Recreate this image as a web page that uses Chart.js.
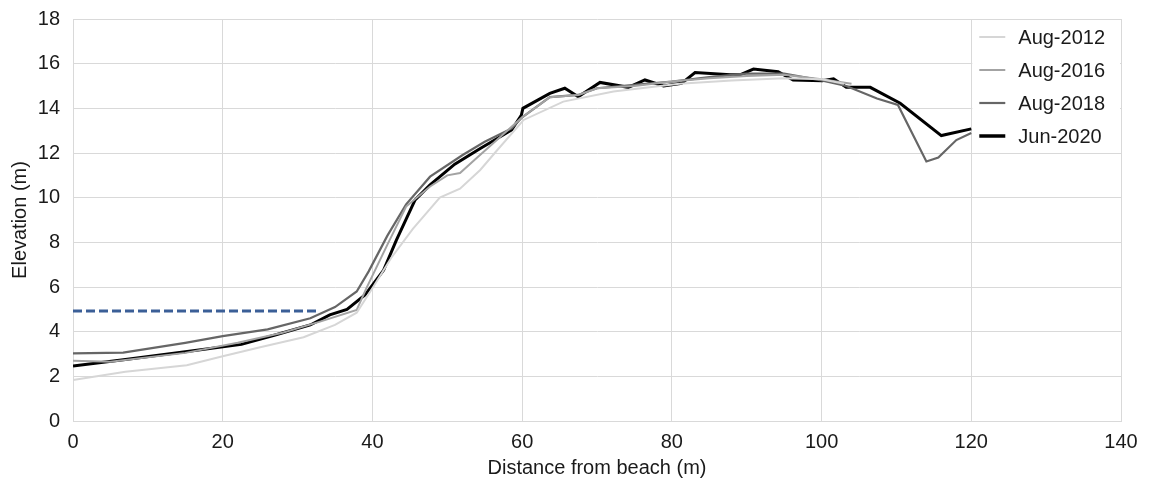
<!DOCTYPE html>
<html lang="en">
<head>
    <meta charset="UTF-8">
    <script src="https://cdn.jsdelivr.net/npm/chart.js"></script>
    <title>Beach profile</title>
    <style>
        body { margin: 0; background: #fff; }
        #wrap { width: 1151px; height: 489px; }
    </style>
</head>
<body>
<div id="wrap"><canvas id="myChart"></canvas></div>
<script>
    // profile data: distance from beach (m) / elevation (m)
    const dist2012 = [0, 7, 15.2, 20, 25, 30.8, 35, 37.9, 40.1, 42.5, 45.4, 49, 51.7, 54.4, 56.6, 60.2, 65.5, 72.2, 81, 88, 95, 100, 103];
    const elev2012 = [1.84, 2.2, 2.5, 2.9, 3.3, 3.75, 4.3, 4.85, 6.0, 7.3, 8.6, 10.0, 10.4, 11.24, 12.1, 13.48, 14.3, 14.75, 15.1, 15.25, 15.35, 15.3, 15.1];

    const dist2016 = [0, 5, 15, 22, 28, 33, 37.9, 39.2, 42, 44.5, 47.7, 50, 51.7, 54, 58, 60, 63.7, 67.5, 70, 75, 80, 85, 90, 95, 100, 104];
    const elev2016 = [2.7, 2.65, 3.05, 3.5, 3.95, 4.45, 4.97, 5.95, 7.9, 9.6, 10.5, 11.0, 11.1, 11.8, 13.0, 13.6, 14.5, 14.6, 14.9, 15.0, 15.2, 15.35, 15.45, 15.5, 15.3, 15.1];

    const dist2018 = [0, 6.7, 15, 20, 26, 31.7, 35, 37.9, 39.5, 42, 44.5, 47.7, 52, 55, 58.6, 60, 63.7, 67.5, 70, 75, 80, 85, 90, 95, 100, 103.3, 107.4, 110.2, 114, 115.6, 118, 120];
    const elev2018 = [3.03, 3.06, 3.5, 3.8, 4.1, 4.6, 5.1, 5.8, 6.7, 8.3, 9.7, 10.94, 11.9, 12.5, 13.1, 13.6, 14.5, 14.6, 14.9, 15.05, 15.2, 15.4, 15.55, 15.55, 15.25, 15.0, 14.44, 14.15, 11.62, 11.8, 12.58, 12.9];

    const dist2020 = [0, 7, 15, 22.5, 27, 31.7, 34.3, 36.6, 39, 41.5, 43.2, 45.7, 47.7, 51, 54.4, 58.6, 59.9, 60.1, 63.7, 65.7, 67.5, 70.4, 74.2, 76.4, 78.9, 81.3, 83.1, 87.8, 89.1, 90.9, 94.2, 96.2, 100.1, 101.6, 103.3, 106.5, 110.5, 116, 120];
    const elev2020 = [2.46, 2.75, 3.1, 3.43, 3.85, 4.3, 4.75, 5.0, 5.64, 6.76, 8.1, 9.9, 10.57, 11.5, 12.2, 13.03, 13.7, 14.0, 14.67, 14.9, 14.52, 15.16, 14.94, 15.27, 15.0, 15.12, 15.6, 15.5, 15.5, 15.76, 15.64, 15.27, 15.24, 15.32, 14.94, 14.94, 14.23, 12.78, 13.08];

    // dashed reference level
    const levelDist = [0, 32.6];
    const levelElev = [4.93, 4.93];

    const seriesNames = ['Aug-2012', 'Aug-2016', 'Aug-2018', 'Jun-2020'];
    const xTicks = [0, 20, 40, 60, 80, 100, 120, 140];
    const yTicks = [0, 2, 4, 6, 8, 10, 12, 14, 16, 18];

    const FONT = 'Liberation Sans, Arial, Helvetica, sans-serif';
    const GRID = '#d9d9d9';

    function toPoints(xs, ys) {
        return xs.map((x, i) => ({x: x, y: ys[i]}));
    }

    function lineSet(label, xs, ys, color, width) {
        return {
            label: label,
            data: toPoints(xs, ys),
            borderColor: color,
            backgroundColor: color,
            borderWidth: width,
            pointRadius: 0,
            fill: false,
            tension: 0
        };
    }

    const datasets = [
        lineSet(seriesNames[0], dist2012, elev2012, '#d6d6d6', 2),
        lineSet(seriesNames[1], dist2016, elev2016, '#a3a3a3', 2),
        lineSet(seriesNames[2], dist2018, elev2018, '#666666', 2.2),
        lineSet(seriesNames[3], dist2020, elev2020, '#000000', 3),
        {
            label: '',
            data: toPoints(levelDist, levelElev),
            borderColor: '#3b5f97',
            borderWidth: 3,
            borderDash: [9, 4],
            pointRadius: 0,
            fill: false
        }
    ];

    // legend drawn inside the top-right corner of the plot, like the original
    const boxLegend = {
        id: 'boxLegend',
        afterDatasetsDraw(chart) {
            const ctx = chart.ctx;
            const area = chart.chartArea;
            const left = chart.scales.x.getPixelForValue(120);
            const bottom = chart.scales.y.getPixelForValue(12);
            const top = area.top;
            const rowH = 33;
            ctx.save();
            ctx.fillStyle = '#ffffff';
            ctx.fillRect(left + 1, top + 1, area.right - left - 2, bottom - top - 1.5);
            ctx.font = '20px ' + FONT;
            ctx.textBaseline = 'middle';
            ctx.fillStyle = '#1a1a1a';
            seriesNames.forEach((name, i) => {
                const ds = chart.data.datasets[i];
                const y = top + 18 + i * rowH;
                ctx.strokeStyle = ds.borderColor;
                ctx.lineWidth = i === 3 ? 3.5 : ds.borderWidth;
                ctx.beginPath();
                ctx.moveTo(left + 8, y);
                ctx.lineTo(left + 34, y);
                ctx.stroke();
                ctx.fillText(name, left + 47, y + 1);
            });
            ctx.restore();
        }
    };

    new Chart(document.getElementById('myChart'), {
        type: 'line',
        data: {datasets: datasets},
        plugins: [boxLegend],
        options: {
            responsive: true,
            maintainAspectRatio: false,
            animation: false,
            layout: {padding: {top: 19, right: 30, left: 0, bottom: 0}},
            plugins: {
                legend: {display: false},
                tooltip: {enabled: false}
            },
            scales: {
                x: {
                    type: 'linear',
                    min: 0,
                    max: 140,
                    afterFit: s => { s.height = 68; s.paddingLeft = 0; s.paddingRight = 0; },
                    afterBuildTicks: s => { s.ticks = xTicks.map(v => ({value: v})); },
                    grid: {color: GRID, lineWidth: 1, drawTicks: false},
                    border: {color: GRID},
                    ticks: {
                        padding: 9,
                        color: '#1a1a1a',
                        font: {family: FONT, size: 20},
                        maxRotation: 0
                    },
                    title: {
                        display: true,
                        text: 'Distance from beach (m)',
                        color: '#1a1a1a',
                        font: {family: FONT, size: 20},
                        padding: {top: 0, bottom: 9}
                    }
                },
                y: {
                    type: 'linear',
                    min: 0,
                    max: 18,
                    afterFit: s => { s.width = 73; s.paddingTop = 0; s.paddingBottom = 0; },
                    afterBuildTicks: s => { s.ticks = yTicks.map(v => ({value: v})); },
                    grid: {color: GRID, lineWidth: 1, drawTicks: false},
                    border: {color: GRID},
                    ticks: {
                        padding: 13,
                        color: '#1a1a1a',
                        font: {family: FONT, size: 20}
                    },
                    title: {
                        display: true,
                        text: 'Elevation (m)',
                        color: '#1a1a1a',
                        font: {family: FONT, size: 20},
                        padding: {top: 8, bottom: 0}
                    }
                }
            }
        }
    });
</script>
</body>
</html>
